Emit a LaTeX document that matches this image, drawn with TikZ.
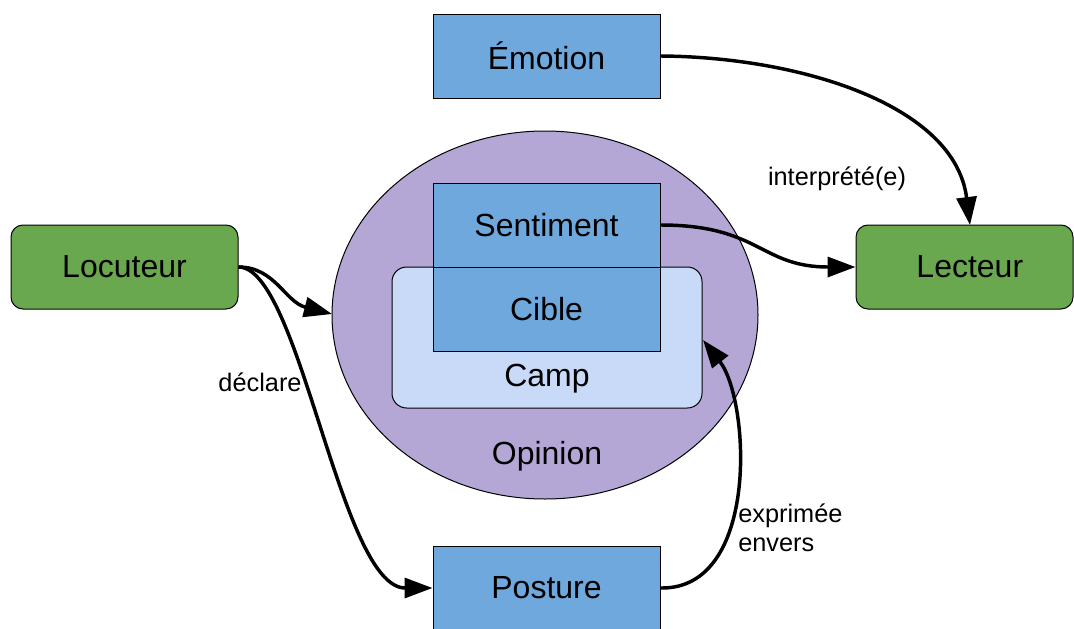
\documentclass[tikz,border=0pt]{standalone}
\usepackage{fontspec}
\setmainfont{Liberation Sans}
\usetikzlibrary{shapes.geometric,arrows.meta}
\definecolor{boxblue}{HTML}{6FA8DC}
\definecolor{boxgreen}{HTML}{6AA84F}
\definecolor{oppurple}{HTML}{B4A7D6}
\definecolor{camplight}{HTML}{C9DAF8}
\tikzset{
  bluebox/.style={draw=black, line width=0.75pt, fill=boxblue, rectangle, inner sep=0pt,
    minimum width=170.25pt, minimum height=63pt, font=\fontsize{24}{28}\selectfont},
  greenbox/.style={draw=black, line width=0.75pt, fill=boxgreen, rectangle, rounded corners=9pt,
    inner sep=0pt, minimum height=63pt, font=\fontsize{24}{28}\selectfont},
  bigtext/.style={font=\fontsize{24}{28}\selectfont, inner sep=0pt},
  lbl/.style={font=\fontsize{19}{22}\selectfont, inner sep=0pt},
  conn/.style={line width=2.6pt, -{Triangle[length=21pt,width=15pt]}},
}
\begin{document}
\begin{tikzpicture}[x=0.75pt,y=-0.75pt]
\useasboundingbox (0,0) rectangle (1074,628);
% opinion ellipse
\node[ellipse, draw=black, line width=0.75pt, fill=oppurple, inner sep=0pt,
  minimum width=319.5pt, minimum height=276pt] (op) at (545,315) {};
\node[bigtext] (optext) at (547,456) {Opinion};
% camp
\node[rectangle, rounded corners=11pt, draw=black, line width=0.75pt, fill=camplight,
  inner sep=0pt, minimum width=232.5pt, minimum height=105.75pt] (camp) at (547,337.5) {};
\node[bigtext] (camptext) at (547,379) {Camp};
% boxes
\node[bluebox] (emo) at (546.5,56) {Émotion};
\node[bluebox] (sent) at (546.5,225) {Sentiment};
\node[bluebox] (cible) at (546.5,309) {Cible};
\node[bluebox] (post) at (546.5,588) {Posture};
\node[greenbox, minimum width=170.25pt] (loc) at (124.5,267) {Locuteur};
\node[greenbox, minimum width=162.75pt, inner xsep=0pt, text width=162.75pt, align=center] (lect) at (964.5,267) {\hspace*{8pt}Lecteur};
\coordinate (lecttop) at (970,225);
\coordinate (optarget) at (332,314);
\coordinate (camptarget) at (703,340);
% connectors
\draw[conn] (emo.east) .. controls (800,57) and (955,105) .. (lecttop);
\draw[conn] (sent.east) .. controls (760,225) and (760,267) .. (lect.west);
\draw[conn] (loc.east) .. controls (275,267) and (285,302) .. (optarget);
\draw[conn] (loc.east) .. controls (300,267) and (340,588) .. (post.west);
\draw[conn] (post.east) .. controls (760,590) and (750,400) .. (camptarget);
% labels
\node[lbl] (l1) at (837,179) {interprété(e)};
\node[lbl] (l2) at (260,382) {déclare};
\node[lbl, align=left, anchor=west] (l3) at (738,528) {exprimée\\envers};
\end{tikzpicture}
\end{document}
